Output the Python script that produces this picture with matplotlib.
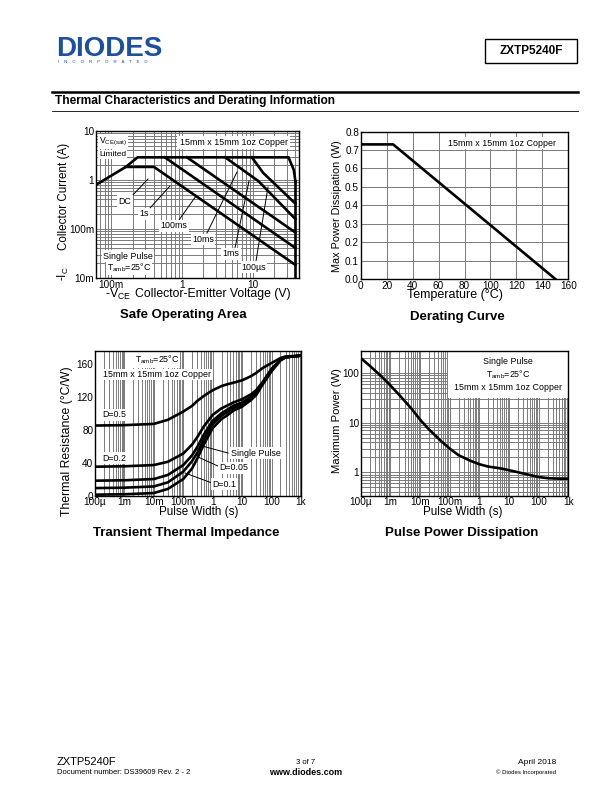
import matplotlib
matplotlib.use('Agg')
import matplotlib.pyplot as plt
from matplotlib import font_manager
import numpy as np

plt.rcParams['font.family'] = ['Liberation Sans', 'DejaVu Sans']
plt.rcParams['mathtext.fontset'] = 'custom'
plt.rcParams['mathtext.rm'] = 'Liberation Sans'
plt.rcParams['mathtext.it'] = 'Liberation Sans'

NARROW_OK = any(f.name == 'Liberation Sans Narrow' for f in font_manager.fontManager.ttflist)
CF = ['Liberation Sans Narrow', 'Liberation Sans', 'DejaVu Sans'] if NARROW_OK else ['Liberation Sans', 'DejaVu Sans']


def cs(size):
    """chart text size, given the size needed in regular Liberation Sans"""
    return size / 0.82 if NARROW_OK else size


W, H = 612, 792
fig = plt.figure(figsize=(6.12, 7.92), dpi=100)

# ---------------- data ----------------
# Safe operating area (V, A)
soa_env_v = [0.06, 0.16, 0.235, 32, 38, 40]
soa_env_i = [0.79, 1.85, 2.9, 2.9, 1.6, 0.95]
soa_bv_v = [40, 40]
soa_bv_i = [0.95, 0.01]
soa_dc_v = [0.16, 0.40, 40]
soa_dc_i = [1.85, 1.85, 0.0185]
soa_1s_v = [0.57, 40]
soa_1s_i = [2.9, 0.041]
soa_100ms_v = [1.17, 40]
soa_100ms_i = [2.9, 0.085]
soa_10ms_v = [4.07, 12, 40]
soa_10ms_i = [2.9, 0.95, 0.16]
soa_1ms_v = [9.7, 14, 40]
soa_1ms_i = [2.9, 1.4, 0.33]

# Derating
der_t = [0, 25, 150]
der_p = [0.73, 0.73, 0.0]

# Transient thermal impedance
tti_t = [1e-4, 1e-3, 1e-2, 3e-2, 0.1, 0.2, 0.3, 0.5, 1, 2, 3, 5, 10, 20, 30, 50, 100, 200, 300, 1000]
tti_d05 = [85, 85.5, 87, 92, 102, 109, 115, 121, 128, 133, 135, 137, 140, 145, 149, 155, 161, 167, 169, 170]
tti_d02 = [35, 35.5, 37, 41, 51, 62, 71, 84, 98, 106, 109, 113, 117, 123, 128, 138, 154, 165, 168, 170]
tti_d01 = [18, 18.5, 20, 25, 37, 49, 59, 74, 91, 100, 104, 109, 113, 120, 126, 137, 153, 165, 168, 170]
tti_d005 = [9, 9.5, 11, 16, 29, 42, 52, 68, 87, 97, 101, 106, 111, 118, 124, 136, 152, 165, 168, 170]
tti_sp = [1, 1.5, 3, 8, 20, 33, 45, 62, 82, 93, 97, 103, 108, 116, 122, 135, 151, 164, 168, 170]

# Pulse power dissipation
ppd_t = [1e-4, 2e-4, 5e-4, 1e-3, 2e-3, 5e-3, 1e-2, 2e-2, 5e-2, 0.1, 0.2, 0.5, 1, 2, 5, 10, 20, 50, 100, 200, 500, 1000]
ppd_p = [200, 140, 85, 56, 36, 19.5, 11.5, 7.3, 4.3, 3.0, 2.2, 1.7, 1.45, 1.3, 1.2, 1.1, 1.0, 0.88, 0.8, 0.76, 0.74, 0.74]

log_tick_pos = [1e-4, 1e-3, 1e-2, 1e-1, 1, 10, 100, 1000]
log_tick_lab = ['100µ', '1m', '10m', '100m', '1', '10', '100', '1k']

GRID = '#7a7a7a'
LW = 1.9
TICK = cs(7.2)
ANN = cs(6.4)


def ax_px(l, t, r, b):
    return fig.add_axes([l / W, 1 - b / H, (r - l) / W, (b - t) / H])


def fx(x):
    return x / W


def fy(y):
    return 1 - y / H


def minor_positions(lo, hi):
    out = []
    for d in range(int(np.floor(np.log10(lo))) - 1, int(np.ceil(np.log10(hi))) + 1):
        for k in range(1, 10):
            v = k * 10.0 ** d
            if lo < v < hi:
                out.append(v)
    return out


def style(ax):
    for s in ax.spines.values():
        s.set_linewidth(1.0)
        s.set_color('black')
        s.set_zorder(7)
    ax.tick_params(which='both', length=0, pad=1.2, labelsize=TICK)
    for lab in ax.get_xticklabels() + ax.get_yticklabels():
        lab.set_family(CF)


def box_text(ax, x, y, s, size=None, **kw):
    t = ax.text(x, y, s, transform=ax.transAxes, zorder=5, family=CF, fontsize=size or ANN, **kw)
    t.set_bbox(dict(facecolor='white', edgecolor='none', pad=1.0))
    return t


def ftext(x, y, s, size, **kw):
    return fig.text(fx(x), fy(y), s, fontsize=size, family=CF, **kw)


def leader(p0, p1):
    fig.add_artist(plt.Line2D([fx(p0[0]), fx(p1[0])], [fy(p0[1]), fy(p1[1])],
                              color='black', lw=0.7, zorder=5))

# ---------------- header ----------------
fig.text(fx(56), fy(56.5), 'DIODES', fontsize=20, fontweight='bold', color='#1d4f9b',
         ha='left', va='baseline')
fig.text(fx(58), fy(63), 'I    N    C    O    R    P    O    R    A    T    E    D', fontsize=3.2,
         color='#1d4f9b', ha='left', va='baseline')
fig.patches.append(plt.Rectangle((fx(485), fy(63)), (577 - 485) / W, (63 - 39) / H,
                                 transform=fig.transFigure, fill=False, lw=1.0, ec='black'))
fig.text(fx(531), fy(51), 'ZXTP5240F', fontsize=8.5, fontweight='bold', ha='center', va='center')

fig.add_artist(plt.Line2D([fx(52), fx(578)], [fy(92), fy(92)], color='black', lw=1.8))
fig.text(fx(55), fy(101), 'Thermal Characteristics and Derating Information', fontsize=8.6,
         fontweight='bold', ha='left', va='center')
fig.add_artist(plt.Line2D([fx(52), fx(578)], [fy(110.5), fy(110.5)], color='black', lw=0.6))

# ---------------- SOA ----------------
ax = ax_px(95.7, 131, 299, 278)
ax.set_xscale('log'); ax.set_yscale('log')
ax.set_xlim(0.06, 45); ax.set_ylim(0.01, 10)
ax.set_xticks(minor_positions(0.06, 45), minor=True)
ax.set_yticks(minor_positions(0.01, 10), minor=True)
ax.set_xticks([0.1, 1, 10]); ax.set_xticklabels(['100m', '1', '10'])
ax.set_yticks([0.01, 0.1, 1, 10]); ax.set_yticklabels(['10m', '100m', '1', '10'])
ax.tick_params(which='minor', labelleft=False, labelbottom=False)
ax.grid(which='both', color=GRID, lw=0.7)
style(ax)
for v, i in [(soa_env_v, soa_env_i), (soa_bv_v, soa_bv_i), (soa_dc_v, soa_dc_i),
             (soa_1s_v, soa_1s_i), (soa_100ms_v, soa_100ms_i), (soa_10ms_v, soa_10ms_i),
             (soa_1ms_v, soa_1ms_i)]:
    ax.plot(v, i, color='black', lw=LW, solid_joinstyle='miter', zorder=4)
ftext(99, 141.5, r'V$_{\mathregular{CE(sat)}}$', cs(6.2), ha='left', va='center', zorder=6).set_bbox(
    dict(facecolor='white', edgecolor='none', pad=0.8))
ftext(99, 154.5, 'Limited', cs(6.0), ha='left', va='center', zorder=6).set_bbox(
    dict(facecolor='white', edgecolor='none', pad=0.8))
ftext(233.5, 142.5, '15mm x 15mm 1oz Copper', ANN, ha='center', va='center', zorder=6).set_bbox(
    dict(facecolor='white', edgecolor='none', pad=1.5))
ftext(128, 256, 'Single Pulse', ANN, ha='center', va='center', zorder=6).set_bbox(
    dict(facecolor='white', edgecolor='none', pad=0.8))
ftext(129, 268, r'T$_{\mathregular{amb}}$=25°C', ANN, ha='center', va='center', zorder=6).set_bbox(
    dict(facecolor='white', edgecolor='none', pad=0.8))
soa_labels = [('DC', 125, 201, (131, 197), (148, 179)),
              ('1s', 144, 214, (150, 208), (170, 186)),
              ('100ms', 174, 226, (179, 220), (196, 196)),
              ('10ms', 203, 239.5, (207, 233), (237, 172)),
              ('1ms', 231, 254, (235, 248), (249, 181)),
              ('100µs', 254, 267, (256, 261), (268, 187))]
for s, x, y, p0, p1 in soa_labels:
    leader(p0, p1)
    t = ftext(x, y, s, ANN, ha='center', va='center', zorder=6)
    t.set_bbox(dict(facecolor='white', edgecolor='none', pad=0.8))
ftext(63.5, 250, 'Collector Current (A)', cs(8.4), rotation=90, ha='center', va='bottom')
ftext(63.5, 281, r'-I$_{\mathregular{C}}$', cs(8.4), rotation=90, ha='center', va='bottom')
ftext(105, 294, r'-V$_{\mathregular{CE}}$', cs(8.9), ha='left', va='center')
ftext(135, 294, 'Collector-Emitter Voltage (V)', cs(8.8), ha='left', va='center')
fig.text(fx(183), fy(315), 'Safe Operating Area', fontsize=9.5, fontweight='bold', ha='center', va='center')

# ---------------- Derating ----------------
ax = ax_px(360.7, 131.5, 568.3, 279)
ax.plot(der_t, der_p, color='black', lw=LW, zorder=4)
ax.set_xlim(0, 160); ax.set_ylim(0, 0.8)
ax.set_xticks(np.arange(0, 161, 20))
ax.set_yticks(np.arange(0, 0.81, 0.1))
ax.set_yticklabels(['%.1f' % v for v in np.arange(0, 0.81, 0.1)])
ax.grid(color=GRID, lw=0.7)
style(ax)
box_text(ax, 0.94, 0.92, '15mm x 15mm 1oz Copper', ha='right', va='center')
ftext(336.5, 206, 'Max Power Dissipation (W)', cs(7.8), rotation=90, ha='center', va='center')
ftext(455, 295, 'Temperature (°C)', cs(9.0), ha='center', va='center')
fig.text(fx(457), fy(317), 'Derating Curve', fontsize=9.5, fontweight='bold', ha='center', va='center')

# ---------------- Transient thermal impedance ----------------
ax = ax_px(95, 351.5, 301, 495.5)
ax.set_xscale('log')
ax.set_xlim(1e-4, 1e3); ax.set_ylim(0, 175)
ax.set_xticks(minor_positions(1e-4, 1e3), minor=True)
ax.set_xticks(log_tick_pos); ax.set_xticklabels(log_tick_lab)
ax.set_yticks([0, 40, 80, 120, 160])
ax.tick_params(which='minor', labelbottom=False)
ax.grid(which='both', axis='x', color=GRID, lw=0.7)
style(ax)
for series in [tti_d05, tti_d02, tti_d01, tti_d005, tti_sp]:
    ax.plot(tti_t, series, color='black', lw=LW, zorder=4)
box_text(ax, 0.3, 0.94, r'T$_{\mathregular{amb}}$=25°C', ha='center', va='center')
box_text(ax, 0.3, 0.84, '15mm x 15mm 1oz Copper', ha='center', va='center')
box_text(ax, 0.035, 0.56, 'D=0.5', ha='left', va='center')
box_text(ax, 0.035, 0.26, 'D=0.2', ha='left', va='center')
tti_labels = [('Single Pulse', 256, 453, (228, 453), (202, 446)),
              ('D=0.05', 234, 468, (220, 467), (198, 457)),
              ('D=0.1', 224, 484, (212, 483), (185, 473))]
for s, x, y, p0, p1 in tti_labels:
    leader(p0, p1)
    t = ftext(x, y, s, ANN, ha='center', va='center', zorder=6)
    t.set_bbox(dict(facecolor='white', edgecolor='none', pad=0.8))
ftext(67, 441, 'Thermal Resistance (°C/W)', cs(8.8), rotation=90, ha='center', va='center')
ftext(199, 512, 'Pulse Width (s)', cs(8.4), ha='center', va='center')
fig.text(fx(186), fy(533), 'Transient Thermal Impedance', fontsize=9.5, fontweight='bold', ha='center', va='center')

# ---------------- Pulse power dissipation ----------------
ax = ax_px(360.7, 351.5, 568.3, 495.5)
ax.set_xscale('log'); ax.set_yscale('log')
ax.set_xlim(1e-4, 1e3); ax.set_ylim(0.34, 270)
ax.set_xticks(minor_positions(1e-4, 1e3), minor=True)
ax.set_yticks(minor_positions(0.34, 270), minor=True)
ax.set_xticks(log_tick_pos); ax.set_xticklabels(log_tick_lab)
ax.set_yticks([1, 10, 100]); ax.set_yticklabels(['1', '10', '100'])
ax.tick_params(which='minor', labelbottom=False, labelleft=False)
ax.grid(which='both', color=GRID, lw=0.7)
style(ax)
ax.plot(ppd_t, ppd_p, color='black', lw=LW, zorder=4)
ax.add_patch(plt.Rectangle((fx(448), fy(398)), (568 - 448) / W, (398 - 351.5) / H,
                           transform=fig.transFigure, facecolor='white', edgecolor='none', zorder=5))
ftext(508, 362, 'Single Pulse', ANN, ha='center', va='center', zorder=6)
ftext(508, 375, r'T$_{\mathregular{amb}}$=25°C', ANN, ha='center', va='center', zorder=6)
ftext(508, 388, '15mm x 15mm 1oz Copper', ANN, ha='center', va='center', zorder=6)
ftext(336.5, 421, 'Maximum Power (W)', cs(8.1), rotation=90, ha='center', va='center')
ftext(463, 512, 'Pulse Width (s)', cs(8.4), ha='center', va='center')
fig.text(fx(462), fy(533), 'Pulse Power Dissipation', fontsize=9.5, fontweight='bold', ha='center', va='center')

# ---------------- footer ----------------
fig.text(fx(57), fy(762), 'ZXTP5240F', fontsize=8, ha='left', va='center')
fig.text(fx(57), fy(773), 'Document number: DS39609 Rev. 2 - 2', fontsize=5.5, ha='left', va='center')
fig.text(fx(306), fy(762), '3 of 7', fontsize=5.5, ha='center', va='center')
fig.text(fx(306), fy(772.5), 'www.diodes.com', fontsize=6.5, fontweight='bold', ha='center', va='center')
fig.text(fx(556), fy(762), 'April 2018', fontsize=6, ha='right', va='center')
fig.text(fx(556), fy(772), '© Diodes Incorporated', fontsize=4.3, ha='right', va='center')

fig.savefig('out.png', dpi=100)
